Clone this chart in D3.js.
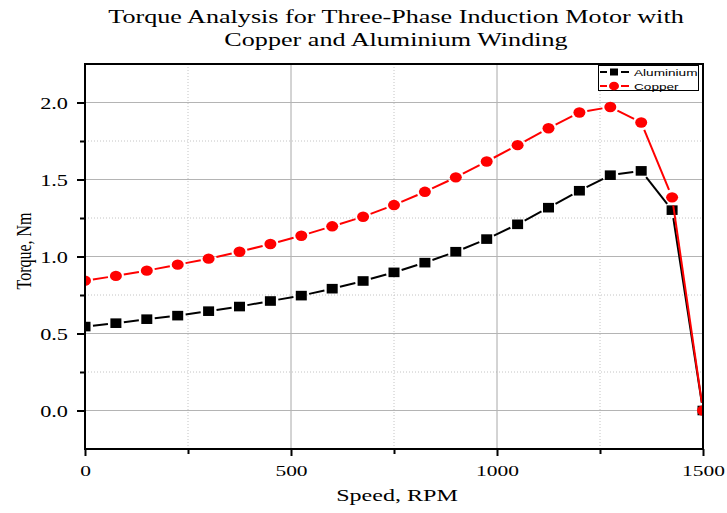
<!DOCTYPE html>
<html><head><meta charset="utf-8">
<script src="https://cdn.jsdelivr.net/npm/d3@7"></script>
<style>body{margin:0;background:#fff}</style></head><body>
<svg id="c" width="727" height="513"></svg>
<script>
// ---- data ----
const speed = [0,75,150,225,300,375,450,525,600,675,750,825,900,975,1050,1125,1200,1275,1350,1425,1500];
const aluminium = [0.545,0.567,0.593,0.616,0.645,0.675,0.711,0.746,0.791,0.841,0.897,0.960,1.031,1.113,1.209,1.317,1.427,1.528,1.556,1.301,0.0];
const copper = [0.843,0.874,0.908,0.947,0.986,1.031,1.081,1.135,1.196,1.258,1.334,1.420,1.514,1.617,1.723,1.833,1.935,1.971,1.870,1.384,0.0];
const xMajor = [0,500,1000,1500];
const xMinor = [250,750,1250];
const yMajor = [0,0.5,1.0,1.5,2.0];
const yMinor = [0.25,0.75,1.25,1.75];
const titleLines = ["Torque Analysis for Three-Phase Induction Motor with","Copper and Aluminium Winding"];
const xLabel = "Speed, RPM", yLabel = "Torque, Nm";
const seriesNames = ["Aluminium","Copper"];

// ---- layout ----
const m = {l:85, r:703, t:64, b:449};
const SX = 1.376;
const serif = "'Liberation Serif','Times New Roman',serif";
const sans = "'Liberation Sans',Arial,sans-serif";
const svg = d3.select("#c");
const x = d3.scaleLinear().domain([0,1500]).range([m.l,m.r]);
const y = d3.scaleLinear().domain([-0.25,2.25]).range([m.b,m.t]);

svg.append("rect").attr("width",727).attr("height",513).attr("fill","#fff");

// grid
const grid = svg.append("g");
grid.selectAll(".xmn").data(xMinor).join("line").attr("x1",d=>x(d)).attr("x2",d=>x(d)).attr("y1",m.t).attr("y2",m.b)
  .attr("stroke","#c4c4c4").attr("stroke-width",1).attr("stroke-dasharray","1,2");
grid.selectAll(".ymn").data(yMinor).join("line").attr("y1",d=>y(d)).attr("y2",d=>y(d)).attr("x1",m.l).attr("x2",m.r)
  .attr("stroke","#c4c4c4").attr("stroke-width",1).attr("stroke-dasharray","1,2");
grid.selectAll(".xmj").data(xMajor).join("line").attr("x1",d=>x(d)).attr("x2",d=>x(d)).attr("y1",m.t).attr("y2",m.b)
  .attr("stroke","#a8a8a8").attr("stroke-width",1);
grid.selectAll(".ymj").data(yMajor).join("line").attr("y1",d=>y(d)).attr("y2",d=>y(d)).attr("x1",m.l).attr("x2",m.r)
  .attr("stroke","#b4b4b4").attr("stroke-width",1);

// axes
function styleAxis(g){ g.select(".domain").remove(); g.selectAll(".tick line").attr("stroke","#000").attr("stroke-width",2); }
const ax = svg.append("g").attr("transform",`translate(0,${m.b})`)
  .call(d3.axisBottom(x).tickValues(xMajor).tickSize(7).tickFormat(d3.format("d")));
styleAxis(ax);
ax.selectAll(".tick text").attr("y",27.5).attr("dy",0).attr("font-family",serif).attr("font-size",15.6).attr("fill","#000")
  .attr("transform",`scale(${SX},1)`);
const axm = svg.append("g").attr("transform",`translate(0,${m.b})`)
  .call(d3.axisBottom(x).tickValues(xMinor).tickSize(5).tickFormat(""));
styleAxis(axm);
const ay = svg.append("g").attr("transform",`translate(${m.l},0)`)
  .call(d3.axisLeft(y).tickValues(yMajor).tickSize(8).tickFormat(d3.format(".1f")));
styleAxis(ay);
ay.selectAll(".tick text").attr("x",-17/SX).attr("dy","0.34em").attr("font-family",serif).attr("font-size",16.2).attr("fill","#000")
  .attr("transform",`scale(${SX},1)`);
const aym = svg.append("g").attr("transform",`translate(${m.l},0)`)
  .call(d3.axisLeft(y).tickValues(yMinor).tickSize(5).tickFormat(""));
styleAxis(aym);

// series
svg.append("clipPath").attr("id","clip").append("rect").attr("x",m.l).attr("y",m.t).attr("width",m.r-m.l).attr("height",m.b-m.t);
const plot = svg.append("g").attr("clip-path","url(#clip)");
const GAP = 8;
function drawSeries(vals, color, shape){
  const pts = speed.map((s,i)=>[x(s),y(vals[i])]);
  const segs = [];
  for(let i=0;i<pts.length-1;i++){
    const [x0,y0]=pts[i],[x1,y1]=pts[i+1];
    const dx=x1-x0, dy=y1-y0, L=Math.hypot(dx,dy);
    if(L>2*GAP){ const ux=dx/L, uy=dy/L; segs.push([x0+ux*GAP,y0+uy*GAP,x1-ux*GAP,y1-uy*GAP]); }
  }
  const g = plot.append("g");
  g.selectAll("line").data(segs).join("line").attr("x1",d=>d[0]).attr("y1",d=>d[1]).attr("x2",d=>d[2]).attr("y2",d=>d[3])
    .attr("stroke",color).attr("stroke-width",2);
  if(shape==="square"){
    g.selectAll("rect").data(pts).join("rect").attr("x",d=>d[0]-5.5).attr("y",d=>d[1]-4.8).attr("width",11).attr("height",9.6).attr("fill",color);
  } else {
    g.selectAll("ellipse").data(pts).join("ellipse").attr("cx",d=>d[0]).attr("cy",d=>d[1]).attr("rx",6).attr("ry",5.2).attr("fill",color);
  }
}
drawSeries(aluminium,"#000","square");
drawSeries(copper,"#ff0000","circle");

// frame
svg.append("rect").attr("x",m.l).attr("y",m.t).attr("width",m.r-m.l).attr("height",m.b-m.t)
  .attr("fill","none").attr("stroke","#000").attr("stroke-width",2);

// legend
const lg = svg.append("g");
lg.append("rect").attr("x",598.5).attr("y",65.5).attr("width",100).attr("height",25).attr("fill","#fff").attr("stroke","#000").attr("stroke-width",1);
const legItems = [{name:seriesNames[0],color:"#000",shape:"square",cy:72},{name:seriesNames[1],color:"#ff0000",shape:"circle",cy:86}];
legItems.forEach(it=>{
  lg.append("line").attr("x1",600).attr("x2",607).attr("y1",it.cy).attr("y2",it.cy).attr("stroke",it.color).attr("stroke-width",2);
  lg.append("line").attr("x1",621).attr("x2",629).attr("y1",it.cy).attr("y2",it.cy).attr("stroke",it.color).attr("stroke-width",2);
  if(it.shape==="square") lg.append("rect").attr("x",610).attr("y",it.cy-3.5).attr("width",8).attr("height",7).attr("fill",it.color);
  else lg.append("ellipse").attr("cx",614).attr("cy",it.cy).attr("rx",5).attr("ry",4.3).attr("fill",it.color);
  lg.append("g").attr("transform",`translate(634,${it.cy}) scale(${SX},1)`).append("text")
    .attr("dy","0.36em").attr("font-family",sans).attr("font-size",9.9).attr("fill","#000").text(it.name);
});

// titles
function stext(xx,yy,str,fs,rot){
  return svg.append("g").attr("transform",`translate(${xx},${yy}) scale(${SX},1)${rot?` rotate(${rot})`:""}`)
    .append("text").attr("text-anchor","middle").attr("font-family",serif).attr("font-size",fs).attr("fill","#000").text(str);
}
stext(396,23,titleLines[0],19);
stext(396,46,titleLines[1],19);
stext(397,501,xLabel,17.5);
stext(31,251,yLabel,16,-90);
</script></body></html>
